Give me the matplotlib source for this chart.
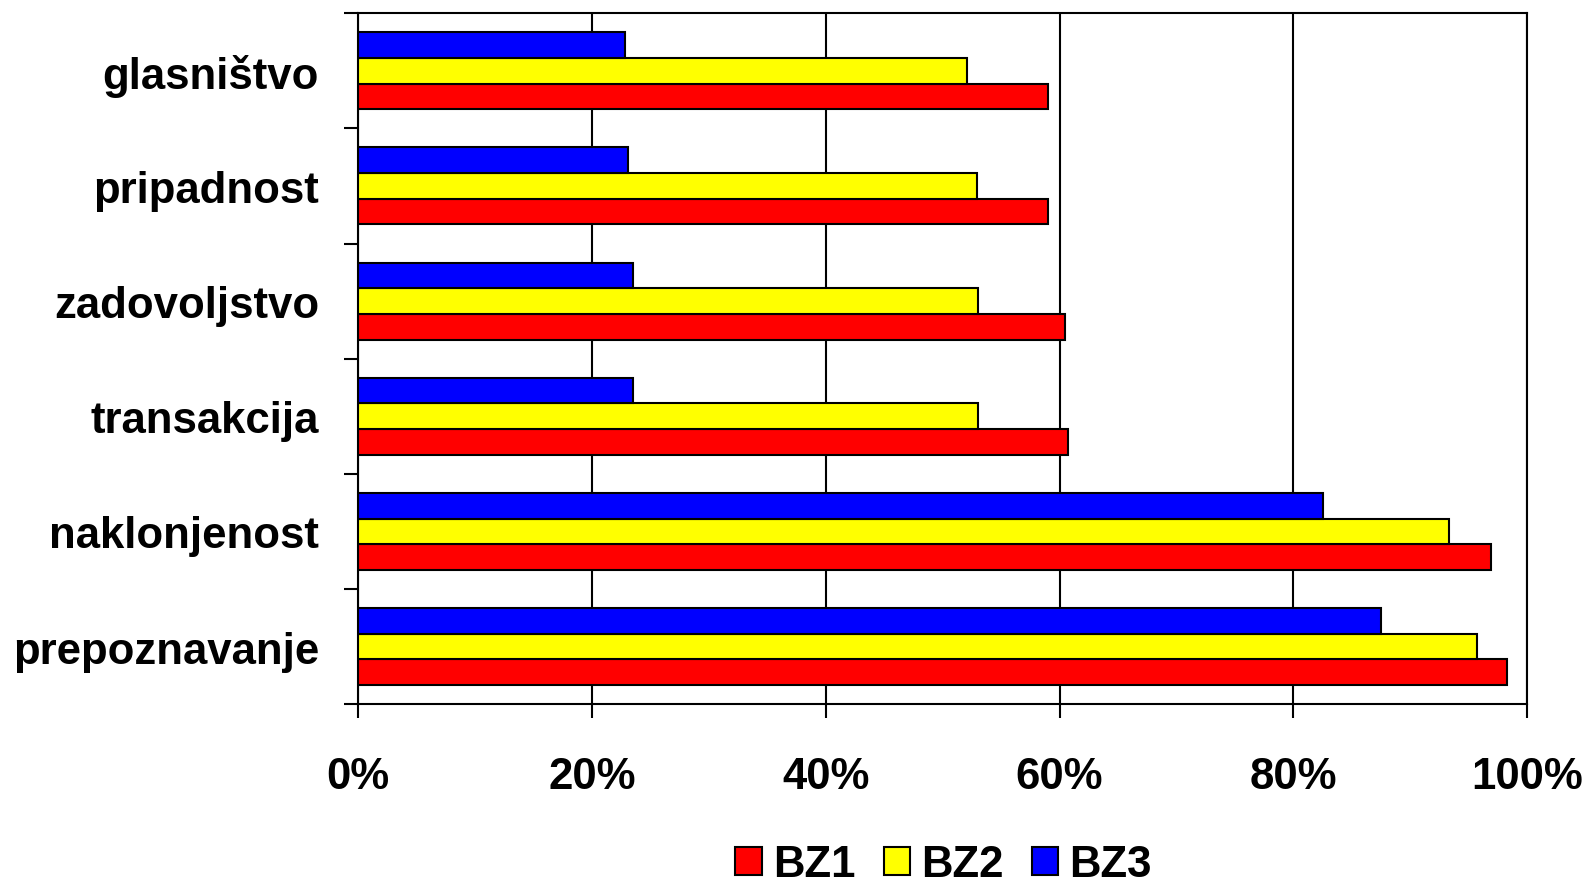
import matplotlib
matplotlib.use("Agg")
import matplotlib.pyplot as plt
import numpy as np
from matplotlib.ticker import FuncFormatter, FixedLocator

categories = ["prepoznavanje", "naklonjenost", "transakcija",
              "zadovoljstvo", "pripadnost", "glasništvo"]
series_names = ["BZ1", "BZ2", "BZ3"]
bz1 = [98.3, 96.9, 60.7, 60.5, 59.0, 59.0]
bz2 = [95.7, 93.3, 53.0, 53.0, 52.9, 52.1]
bz3 = [87.5, 82.5, 23.5, 23.5, 23.1, 22.8]
colors = ["#ff0000", "#ffff00", "#0000ff"]
x_ticks = [0, 20, 40, 60, 80, 100]

plt.rcParams["font.family"] = ["Liberation Sans", "DejaVu Sans"]
plt.rcParams["font.weight"] = "bold"

fig = plt.figure(figsize=(15.91, 8.87), dpi=100)
ax = fig.add_axes([0.225, 0.205, 0.735, 0.779])

y = np.arange(len(categories))
h = 0.223
offsets = [-h, 0, h]
for vals, off, col, name in zip([bz1, bz2, bz3], offsets, colors, series_names):
    ax.barh(y + off, vals, height=h, color=col, edgecolor="black",
            linewidth=1.5, label=name, zorder=3)

ax.set_xlim(0, 100)
ax.set_ylim(-0.5, len(categories) - 0.5)
ax.set_xticks(x_ticks)
ax.xaxis.set_major_formatter(FuncFormatter(lambda v, p: f"{int(v)}%"))
ax.set_yticks(y)
ax.set_yticklabels(categories)
ax.yaxis.set_minor_locator(FixedLocator(np.arange(-0.5, len(categories), 1.0)))
ax.tick_params(axis="y", which="major", length=0, pad=28, labelsize=31.5)
ax.tick_params(axis="y", which="minor", length=10, width=1.5, direction="out")
ax.tick_params(axis="x", length=10, width=1.5, direction="out", pad=27, labelsize=31.5)
for lab in ax.get_xticklabels() + ax.get_yticklabels():
    lab.set_fontweight("bold")

ax.grid(axis="x", color="black", linewidth=1.5, zorder=1)
for s in ax.spines.values():
    s.set_linewidth(1.5)
    s.set_color("black")

leg = fig.legend(loc="center", bbox_to_anchor=(0.593, 0.024), ncol=3, frameon=False,
                 prop={"size": 31.5, "weight": "bold"}, handlelength=0.6,
                 handleheight=0.6, handletextpad=0.25, columnspacing=0.65,
                 borderpad=0.0)

fig.savefig("out.png", dpi=100)
